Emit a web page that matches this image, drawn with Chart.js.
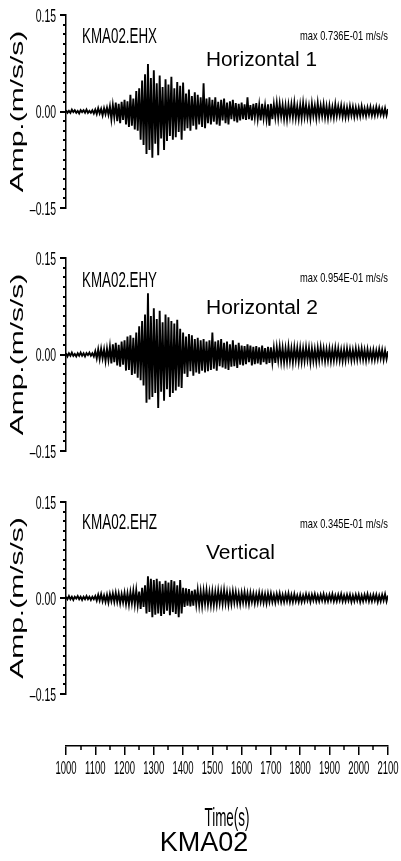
<!DOCTYPE html>
<html>
<head>
<meta charset="utf-8">
<script src="https://cdn.jsdelivr.net/npm/chart.js@4.4.0/dist/chart.umd.min.js"></script>
<style>
body { margin: 0; background: #fff; width: 401px; height: 861px; position: relative; overflow: hidden; }
.box { position: absolute; left: 0; width: 401px; }
</style>
</head>
<body>
<div class="box" style="top:0;height:223px"><canvas id="ehx"></canvas></div>
<div class="box" style="top:243px;height:223px"><canvas id="ehy"></canvas></div>
<div class="box" style="top:487px;height:222px"><canvas id="ehz"></canvas></div>
<div class="box" style="top:700px;height:161px"><canvas id="taxis"></canvas></div>
<script>
/* sampling of the traces: one value every 5 s from 1000 s */
const t0 = 1000, dt = 5;
const timeMin = 1000, timeMax = 2100, timeStep = 100, timeMinor = 50;
const ampMin = -0.15, ampMax = 0.15, ampStep = 0.15, ampMinor = 0.015;

const stations = ['KMA02.EHX', 'KMA02.EHY', 'KMA02.EHZ'];
const maxLabels = ['max 0.736E-01 m/s/s', 'max 0.954E-01 m/s/s', 'max 0.345E-01 m/s/s'];
const components = ['Horizontal 1', 'Horizontal 2', 'Vertical'];

/* amplitudes in 1e-3 m/s/s */
const ehx = [
  2,-2,1,-2,3,-1,2,-2,1,-3, 2,-1,2,-2,3,-2,1,-2,2,-3,
  3,-4,5,-3,4,-6,5,-4,6,-5, 8,-12,10,-9,14,-15,12,-18,15,-13,
  18,-20,16,-24,26,-22,20,-28,32,-30, 36,-44,48,-52,58,-66,74,-60,52,-72,
  64,-50,44,-68,56,-42,38,-60,50,-46, 42,-38,54,-44,36,-40,46,-32,40,-44,
  45,-30,28,-26,34,-30,24,-22,30,-28, 26,-20,22,-24,44,-26,20,-18,22,-20,
  18,-16,22,-20,15,-22,18,-14,20,-18, 14,-20,16,-12,18,-15,13,-17,12,-14,
  14,-12,11,-13,22,-12,10,-14,12,-9, 13,-11,10,-14,12,-10,9,-12,11,-22,
  12,-12,11,-9,13,-10,12,-8,10,-11, 9,-12,10,-8,11,-9,13,-10,8,-11,
  10,-10,13,-8,10,-9,8,-11,12,-7, 9,-10,13,-8,9,-7,11,-9,8,-10,
  9,-8,7,-9,11,-7,8,-6,9,-8, 7,-9,6,-8,8,-6,7,-8,6,-7,
  6,-7,8,-6,5,-7,6,-5,7,-6, 5,-6,7,-5,6,-5,4,-6,5,-6,
  4
];
const ehy = [
  2,-3,2,-2,3,-2,1,-3,2,-2, 3,-2,2,-3,2,-1,3,-2,2,-3,
  5,-6,8,-7,9,-6,8,-10,9,-8, 12,-14,16,-12,18,-17,15,-19,20,-16,
  22,-25,28,-24,30,-32,26,-30,34,-36, 44,-40,52,-48,62,-75,95,-70,60,-66,
  72,-60,55,-83,68,-58,50,-72,62,-54, 58,-66,52,-60,48,-56,54,-50,40,-52,
  34,-30,28,-35,32,-26,30,-33,24,-28, 26,-30,22,-25,24,-28,20,-26,22,-24,
  34,-22,20,-25,22,-18,24,-20,18,-22, 20,-24,16,-19,22,-18,15,-21,18,-16,
  14,-17,13,-15,16,-12,14,-17,12,-15, 13,-14,11,-16,14,-12,10,-15,12,-13,
  11,-12,10,-13,11,-9,12,-11,10,-12, 9,-11,12,-10,9,-12,11,-9,10,-11,
  10,-11,9,-10,11,-8,10,-12,9,-10, 8,-11,10,-9,11,-8,9,-10,8,-9,
  9,-10,8,-9,10,-8,9,-9,7,-10, 8,-9,9,-7,8,-9,7,-8,9,-8,
  8,-7,9,-8,7,-9,8,-7,6,-8, 7,-8,6,-7,8,-6,7,-8,6,-7,
  5
];
const ehz = [
  2,-2,3,-2,2,-3,2,-1,3,-2, 2,-3,2,-2,3,-2,2,-3,2,-2,
  3,-4,5,-4,6,-5,4,-6,5,-7, 6,-5,7,-6,8,-6,7,-8,6,-7,
  8,-9,7,-10,9,-8,11,-10,12,-11, 10,-17,16,-14,20,-24,34,-22,30,-30,
  28,-26,30,-24,26,-28,22,-25,27,-20, 24,-27,28,-22,26,-25,20,-30,28,-24,
  16,-14,15,-12,14,-13,11,-12,13,-10, 12,-11,10,-12,11,-9,12,-10,9,-11,
  10,-11,9,-10,11,-8,10,-9,12,-8, 9,-10,8,-9,10,-7,9,-8,7,-9,
  8,-7,9,-8,7,-9,8,-6,7,-8, 6,-7,8,-6,7,-7,6,-8,7,-6,
  7,-6,5,-7,6,-5,7,-6,5,-6, 6,-5,7,-6,5,-6,6,-5,4,-6,
  5,-6,4,-5,6,-4,5,-6,5,-4, 6,-5,4,-5,5,-4,6,-5,4,-5,
  5,-4,6,-5,4,-5,5,-4,6,-5, 4,-5,5,-4,5,-6,4,-5,5,-4,
  5,-6,4,-5,5,-4,6,-5,4,-5, 5,-4,5,-6,4,-5,5,-4,6,-5,
  4
];
const traces = [ehx, ehy, ehz];

const FONT = '"Liberation Sans", Arial, sans-serif';

/* text squeezed sideways like the original plot */
function squeeze(ctx, text, x, y, size, sx, align) {
    ctx.save();
    ctx.font = size + 'px ' + FONT;
    ctx.textAlign = align || 'left';
    ctx.textBaseline = 'middle';
    ctx.translate(x, y);
    ctx.scale(sx, 1);
    ctx.fillText(text, 0, 0);
    ctx.restore();
}
function fitText(ctx, text, x, y, size, width, align) {
    ctx.font = size + 'px ' + FONT;
    const sx = width / ctx.measureText(text).width;
    squeeze(ctx, text, x, y, size, sx, align);
}

const seisText = {
    id: 'seisText',
    afterDraw(chart, args, o) {
        const ctx = chart.ctx, a = chart.chartArea;
        ctx.fillStyle = '#000';
        ctx.strokeStyle = '#000';
        if (o.panel !== undefined) {
            const ys = chart.scales.y;
            /* tick labels */
            ys.ticks.forEach(tk => {
                const v = tk.value;
                const lab = (v < 0 ? '\u2013' : '') + Math.abs(v).toFixed(2);
                squeeze(ctx, lab, a.left - 10, ys.getPixelForValue(v) + 2, 18, 0.58, 'right');
            });
            /* minor ticks */
            ctx.lineWidth = 2;
            const n = Math.round((ampMax - ampMin) / ampMinor);
            for (let k = 0; k <= n; k++) {
                const py = Math.round(ys.getPixelForValue(ampMin + k * ampMinor));
                ctx.beginPath();
                ctx.moveTo(a.left - 3, py);
                ctx.lineTo(a.left, py);
                ctx.stroke();
            }
            /* axis title, letters squeezed sideways */
            ctx.save();
            ctx.font = '30px ' + FONT;
            ctx.textAlign = 'center';
            ctx.textBaseline = 'middle';
            ctx.translate(18, (a.top + a.bottom) / 2);
            ctx.rotate(-Math.PI / 2);
            ctx.scale(1, 0.6);
            ctx.fillText('Amp.(m/s/s)', 0, 0);
            ctx.restore();

            const p = o.panel;
            fitText(ctx, stations[p], 82, a.top + o.stY, 22, 75, 'left');
            fitText(ctx, maxLabels[p], a.right, a.top + o.maxY, 13, 88, 'right');
            fitText(ctx, components[p], 206, a.top + o.compY, 20, o.compW, 'left');
        }
        if (o.timeAxis) {
            const xs = chart.scales.x;
            xs.ticks.forEach(tk => {
                squeeze(ctx, String(tk.value), xs.getPixelForValue(tk.value), a.bottom + 23, 19, 0.5, 'center');
            });
            ctx.lineWidth = 1.5;
            const n = Math.round((timeMax - timeMin) / timeMinor);
            for (let k = 1; k < n; k += 2) {
                const px = Math.round(xs.getPixelForValue(timeMin + k * timeMinor));
                ctx.beginPath();
                ctx.moveTo(px, a.bottom);
                ctx.lineTo(px, a.bottom + 4);
                ctx.stroke();
            }
            fitText(ctx, 'Time(s)', (a.left + a.right) / 2, a.bottom + 73, 26, 45, 'center');
            squeeze(ctx, 'KMA02', 204, a.bottom + 98, 27, 1, 'center');
        }
    }
};

const textPos = [
    { stY: 22, maxY: 21, compY: 45, compW: 111 },
    { stY: 23, maxY: 20, compY: 50, compW: 112 },
    { stY: 21, maxY: 22, compY: 51, compW: 69 }
];

['ehx', 'ehy', 'ehz'].forEach((id, p) => {
    new Chart(document.getElementById(id), {
        type: 'line',
        data: {
            datasets: [{
                data: traces[p].map((v, i) => ({ x: t0 + i * dt, y: v / 1000 })),
                borderColor: '#000',
                borderWidth: 1.9,
                pointRadius: 0,
                tension: 0,
                fill: false
            }]
        },
        options: {
            animation: false,
            responsive: true,
            maintainAspectRatio: false,
            devicePixelRatio: 1,
            layout: { padding: { top: 15, bottom: 15, left: 0, right: 13 } },
            plugins: {
                legend: { display: false },
                tooltip: { enabled: false },
                seisText: Object.assign({ panel: p }, textPos[p])
            },
            scales: {
                x: { type: 'linear', display: false, min: timeMin, max: timeMax },
                y: {
                    type: 'linear', min: ampMin, max: ampMax,
                    ticks: { display: false, stepSize: ampStep },
                    grid: { drawOnChartArea: false, tickLength: 6, color: '#000', lineWidth: 2 },
                    border: { color: '#000', width: 1.5 },
                    afterFit(s) { s.width = 66; }
                }
            }
        },
        plugins: [seisText]
    });
});

new Chart(document.getElementById('taxis'), {
    type: 'line',
    data: { datasets: [] },
    options: {
        animation: false,
        responsive: true,
        maintainAspectRatio: false,
        devicePixelRatio: 1,
        layout: { padding: { top: 0, bottom: 0, left: 66, right: 13 } },
        plugins: {
            legend: { display: false },
            tooltip: { enabled: false },
            seisText: { timeAxis: true }
        },
        scales: {
            x: {
                type: 'linear', min: timeMin, max: timeMax,
                ticks: { display: false, stepSize: timeStep },
                grid: { drawOnChartArea: false, tickLength: 9, color: '#000', lineWidth: 1.5 },
                border: { color: '#000', width: 1.5 },
                afterFit(s) { s.height = 115; }
            },
            y: { display: false, min: 0, max: 1 }
        }
    },
    plugins: [seisText]
});
</script>
</body>
</html>
